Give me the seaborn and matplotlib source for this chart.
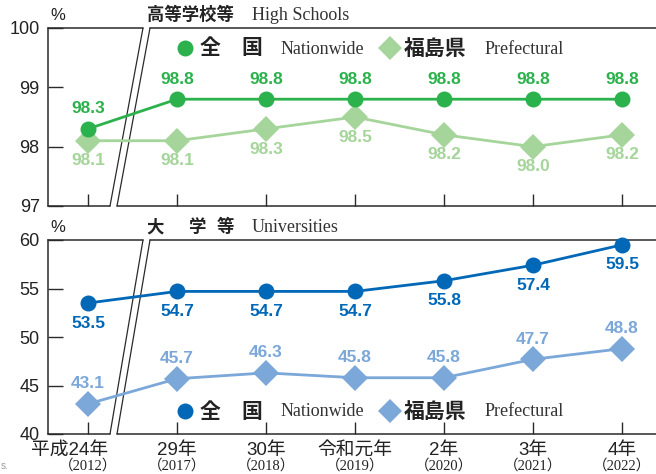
import matplotlib
matplotlib.use("Agg")
import matplotlib.pyplot as plt
import seaborn as sns
import pandas as pd
from matplotlib.lines import Line2D

sns.set_theme(style="white")
plt.rcParams['font.family'] = ['Liberation Sans', 'Noto Sans CJK JP']

# ---------------- data ----------------
era_labels = ["平成24年", "29年", "30年", "令和元年", "2年", "3年", "4年"]
year_labels = ["2012", "2017", "2018", "2019", "2020", "2021", "2022"]

hs_national = [98.3, 98.8, 98.8, 98.8, 98.8, 98.8, 98.8]
hs_pref = [98.1, 98.1, 98.3, 98.5, 98.2, 98.0, 98.2]
uni_national = [53.5, 54.7, 54.7, 54.7, 55.8, 57.4, 59.5]
uni_pref = [43.1, 45.7, 46.3, 45.8, 45.8, 47.7, 48.8]

hs_yticks = [97, 98, 99, 100]
uni_yticks = [40, 45, 50, 55, 60]

GREEN = "#2bb24c"
LGREEN = "#a5d59a"
BLUE = "#0068b7"
LBLUE = "#7ba7d9"
AX = "#2a2a2a"

W, H = 656, 474
fig = plt.figure(figsize=(W / 100, H / 100), dpi=100)

def px_axes(left, top, right, bottom):
    return fig.add_axes([left / W, (H - bottom) / H, (right - left) / W, (bottom - top) / H])

ax1 = px_axes(48, 28, 656, 206)
ax2 = px_axes(48, 240, 656, 434)

x = list(range(len(year_labels)))
XL = (-0.449, 6.382)

def style(ax, ylim, yticks):
    ax.set_xlim(*XL)
    ax.set_ylim(*ylim)
    ax.set_yticks(yticks)
    ax.set_xticks(x)
    for s in ax.spines.values():
        s.set_visible(False)
    ax.spines['left'].set_visible(True)
    ax.spines['left'].set_color(AX)
    ax.spines['left'].set_linewidth(1.1)
    ax.tick_params(axis='y', direction='in', length=11, width=1.0, color=AX,
                   labelsize=13, labelcolor="#222222", pad=6, left=True)
    ax.tick_params(axis='x', direction='in', length=9, width=1.0, color=AX, bottom=True)
    ax.grid(False)
    # broken top / bottom frame
    kw = dict(transform=ax.transAxes, color=AX, lw=1.1, clip_on=False)
    fx = lambda p: (p - 48) / 608
    ax.plot([0, fx(110)], [0, 0], **kw)
    ax.plot([fx(117), 1], [0, 0], **kw)
    ax.plot([0, fx(143)], [1, 1], **kw)
    ax.plot([fx(150), 1], [1, 1], **kw)
    ax.plot([fx(110), fx(143)], [0, 1], color=AX, lw=0.9, transform=ax.transAxes, clip_on=False)
    ax.plot([fx(117), fx(150)], [0, 1], color=AX, lw=0.9, transform=ax.transAxes, clip_on=False)

def series(ax, vals, color, marker, ms, above):
    sns.lineplot(x=x, y=vals, ax=ax, color=color, linewidth=2.0, marker=marker,
                 markersize=ms, markeredgewidth=0, legend=False, clip_on=False, zorder=3)
    for xi, v in zip(x, vals):
        ax.annotate(f"{v:.1f}", (xi, v), xytext=(0, 14.5 if above else -14.5),
                    textcoords="offset points", ha="center", va="center",
                    fontsize=12.5, fontweight="bold", color=color,
                    family=['Liberation Sans'])

style(ax1, (97, 100), hs_yticks)
style(ax2, (40, 60), uni_yticks)
ax1.set_xticklabels([])
ax2.set_xticklabels([])

series(ax1, hs_pref, LGREEN, "D", 13, False)
series(ax1, hs_national, GREEN, "o", 11.5, True)
series(ax2, uni_pref, LBLUE, "D", 13, True)
series(ax2, uni_national, BLUE, "o", 11.5, False)

# x labels (two lines with different fonts)
for i, (xi, e, yl) in enumerate(zip(x, era_labels, year_labels)):
    if i == 0:
        ax2.annotate(e, (xi, 0), xycoords=('data', 'axes fraction'), xytext=(14.5, -12),
                     textcoords='offset points', ha='right', va='center', fontsize=13.5,
                     family=['Liberation Sans', 'Noto Sans CJK JP'], color="#222222")
    else:
        ax2.annotate(e, (xi, 0), xycoords=('data', 'axes fraction'), xytext=(0, -12),
                     textcoords='offset points', ha='center', va='center', fontsize=13.5,
                     family=['Liberation Sans', 'Noto Sans CJK JP'], color="#222222")
    ax2.annotate(f"（{yl}）", (xi, 0), xycoords=('data', 'axes fraction'), xytext=(0, -22.5),
                 textcoords='offset points', ha='center', va='center', fontsize=10.5,
                 family=['Liberation Serif', 'Noto Sans CJK JP'], color="#222222")

def ftext(px, py, s, **kw):
    fig.text(px / W, 1 - py / H, s, **kw)

CJK = ['Noto Sans CJK JP']
SERIF = ['Liberation Serif']

# panel headers
ftext(50, 15, "%", fontsize=12, family=['Liberation Sans'], va='center', ha='left', color="#222222")
ftext(147, 15, "高等学校等", fontsize=12.5, family=CJK, fontweight='bold', va='center', ha='left', color="#222222")
ftext(252, 15, "High Schools", fontsize=13, family=SERIF, va='center', ha='left', color="#333333")
ftext(50, 227, "%", fontsize=12, family=['Liberation Sans'], va='center', ha='left', color="#222222")
for cx, ch in zip([155, 197, 225], ["大", "学", "等"]):
    ftext(cx, 227, ch, fontsize=12.5, family=CJK, fontweight='bold', va='center', ha='center', color="#222222")
ftext(252, 227, "Universities", fontsize=13, family=SERIF, va='center', ha='left', color="#333333")

# legends
def legend(py, c1, c2):
    fig.add_artist(Line2D([185 / W], [1 - py / H], marker='o', color=c1, markersize=11.5,
                          markeredgewidth=0, linestyle='none'))
    fig.add_artist(Line2D([390 / W], [1 - py / H], marker='D', color=c2, markersize=12.5,
                          markeredgewidth=0, linestyle='none'))
    ftext(210, py, "全", fontsize=15, family=CJK, fontweight='bold', va='center', ha='center', color="#222222")
    ftext(252, py, "国", fontsize=15, family=CJK, fontweight='bold', va='center', ha='center', color="#222222")
    ftext(281, py + 1, "Nationwide", fontsize=13, family=SERIF, va='center', ha='left', color="#333333")
    ftext(404, py, "福島県", fontsize=15, family=CJK, fontweight='bold', va='center', ha='left', color="#222222")
    ftext(485, py + 1, "Prefectural", fontsize=13, family=SERIF, va='center', ha='left', color="#333333")

legend(48, GREEN, LGREEN)
legend(411, BLUE, LBLUE)

ftext(1, 466, "s.", fontsize=7, color="#999999", va='center', ha='left')

fig.savefig("out.png", dpi=100)
